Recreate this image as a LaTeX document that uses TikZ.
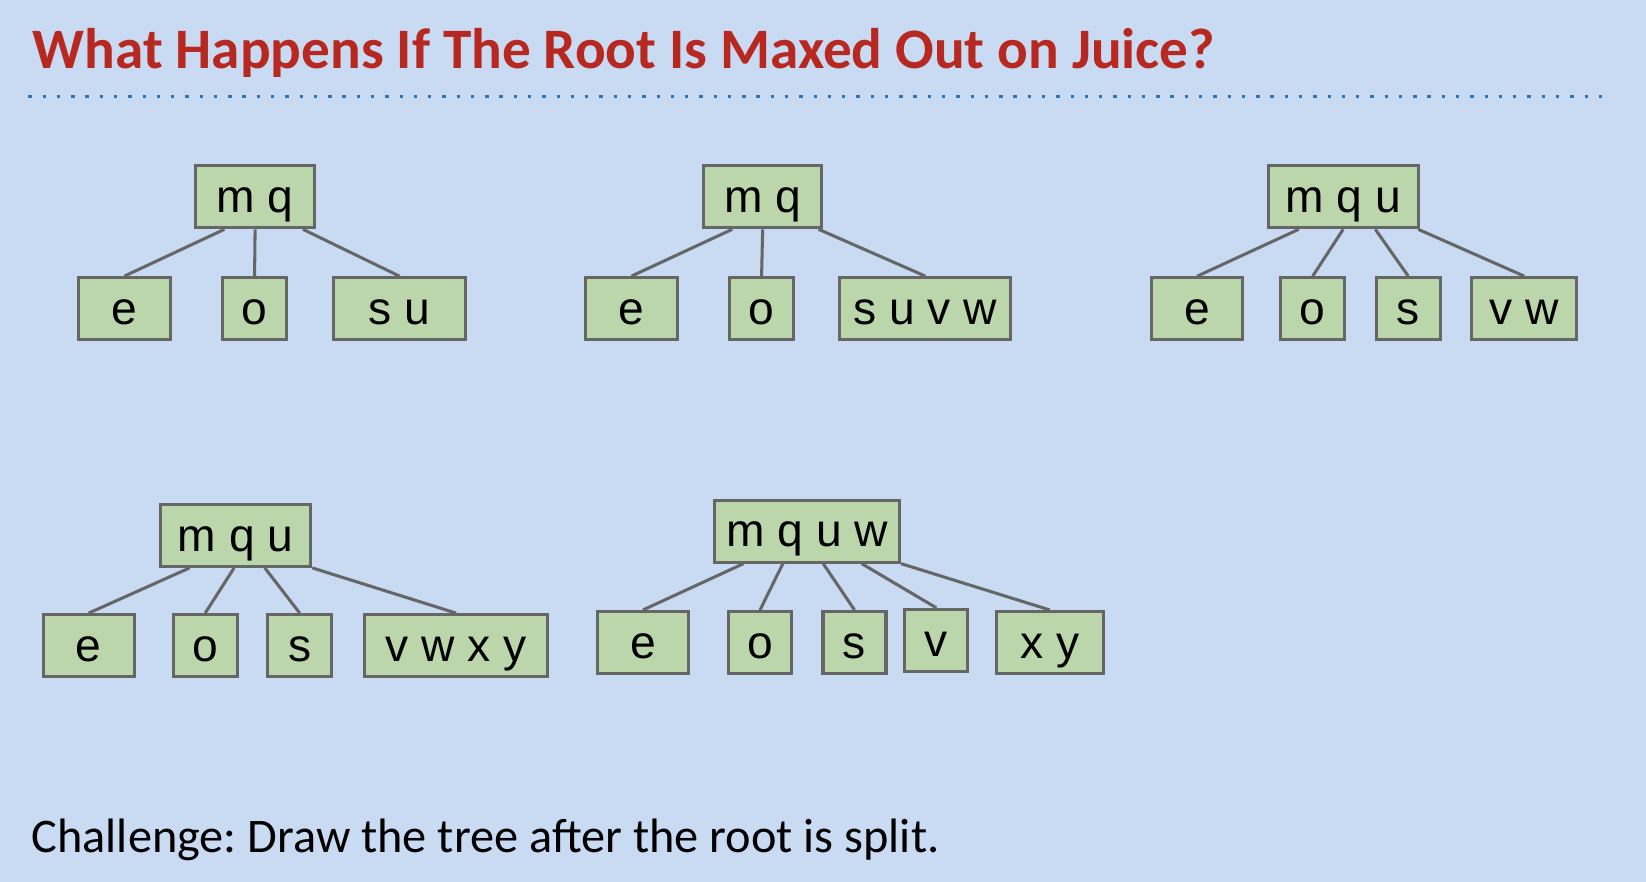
\documentclass[tikz,border=0pt]{standalone}
\usepackage{fontspec}
\setmainfont{Carlito}
\newfontfamily\keyfont{Liberation Sans}
\usepackage{tikz}
\usetikzlibrary{calc}
\definecolor{slidebg}{RGB}{201,218,243}
\definecolor{titlered}{RGB}{183,40,32}
\definecolor{dotblue}{RGB}{46,117,182}
\definecolor{keygreen}{RGB}{188,214,172}
\definecolor{keygray}{RGB}{102,102,102}
\tikzset{mykey/.style={draw=keygray,fill=keygreen,line width=2.9pt,rectangle,minimum height=59pt,inner sep=0pt,text height=34pt,text depth=4pt,font=\keyfont\fontsize{44}{50}\selectfont},
mylink/.style={draw=keygray,line width=2.9pt}}

\begin{document}
\frenchspacing
\begin{tikzpicture}[x=1pt,y=-1pt]
% slide background
\useasboundingbox (0,0) rectangle (1568,840);
\fill[slidebg] (0,0) rectangle (1568,840);
% title and dotted rule
\node[anchor=base west,inner sep=0pt,text=titlered,font=\bfseries\fontsize{54.5}{60}\selectfont] (title) at (31,65) {What Happens If The Root Is Maxed Out on Juice?};
\draw[dotblue,line width=3.2pt,dash pattern=on 3.2pt off 10.4pt] (27,92) -- (1530,92);
% tree 1
\node[mykey,minimum width=114] (mq1) at (243,187.5) {m q};
\node[mykey,minimum width=87] (e1) at (118.5,294) {e};
\node[mykey,minimum width=61] (o1) at (242.5,294) {o};
\node[mykey,minimum width=125] (su1) at (380.5,294) {s u};
\draw[mylink] ($(mq1.south west)!.25!(mq1.south east)$) -- (e1.north);
\draw[mylink] ($(mq1.south west)!.5!(mq1.south east)$) -- (o1.north);
\draw[mylink] ($(mq1.south west)!.89!(mq1.south east)$) -- (su1.north);
% tree 2
\node[mykey,minimum width=113] (mq2) at (726.5,187.5) {m q};
\node[mykey,minimum width=87] (e2) at (601.5,294) {e};
\node[mykey,minimum width=61] (o2) at (725.5,294) {o};
\node[mykey,minimum width=163] (suvw2) at (881.5,294) {s u v w};
\draw[mylink] ($(mq2.south west)!.25!(mq2.south east)$) -- (e2.north);
\draw[mylink] ($(mq2.south west)!.5!(mq2.south east)$) -- (o2.north);
\draw[mylink] ($(mq2.south west)!.96!(mq2.south east)$) -- (suvw2.north);
% tree 3
\node[mykey,minimum width=143] (mqu3) at (1279.5,187.5) {m q u};
\node[mykey,minimum width=87] (e3) at (1140.5,294) {e};
\node[mykey,minimum width=61] (o3) at (1250.5,294) {o};
\node[mykey,minimum width=61] (s3) at (1341.5,294) {s};
\node[mykey,minimum width=100] (vw3) at (1452,294) {v w};
\draw[mylink] ($(mqu3.south west)!.21!(mqu3.south east)$) -- (e3.north);
\draw[mylink] ($(mqu3.south west)!.5!(mqu3.south east)$) -- (o3.north);
\draw[mylink] ($(mqu3.south west)!.71!(mqu3.south east)$) -- (s3.north);
\draw[mylink] ($(mqu3.south west)!.99!(mqu3.south east)$) -- (vw3.north);
% tree 4
\node[mykey,minimum width=143] (mqu4) at (224.5,510) {m q u};
\node[mykey,minimum width=87] (e4) at (84.5,615) {e};
\node[mykey,minimum width=61] (o4) at (195.5,615) {o};
\node[mykey,minimum width=61] (s4) at (285.5,615) {s};
\node[mykey,minimum width=175] (vwxy4) at (434.5,615) {v w x y};
\draw[mylink] ($(mqu4.south west)!.2!(mqu4.south east)$) -- (e4.north);
\draw[mylink] ($(mqu4.south west)!.49!(mqu4.south east)$) -- (o4.north);
\draw[mylink] ($(mqu4.south west)!.69!(mqu4.south east)$) -- (s4.north);
\draw[mylink] (mqu4.south east) -- (vwxy4.north);
% tree 5
\node[mykey,minimum width=176] (mquw5) at (769,506) {m q u w};
\node[mykey,minimum width=87] (e5) at (612.5,612) {e};
\node[mykey,minimum width=60] (o5) at (724,612) {o};
\node[mykey,minimum width=60] (s5) at (814,612) {s};
\node[mykey,minimum width=60] (v5) at (892,610) {v};
\node[mykey,minimum width=102] (xy5) at (1000,612) {x y};
\draw[mylink] ($(mquw5.south west)!.16!(mquw5.south east)$) -- (e5.north);
\draw[mylink] ($(mquw5.south west)!.37!(mquw5.south east)$) -- (o5.north);
\draw[mylink] ($(mquw5.south west)!.585!(mquw5.south east)$) -- (s5.north);
\draw[mylink] ($(mquw5.south west)!.79!(mquw5.south east)$) -- (v5.north);
\draw[mylink] (mquw5.south east) -- (xy5.north);
% challenge line
\node[anchor=base west,inner sep=0pt,font=\fontsize{46}{54}\selectfont] (challenge) at (30,812) {Challenge: Draw the tree after the root is split.};
\end{tikzpicture}
\end{document}
